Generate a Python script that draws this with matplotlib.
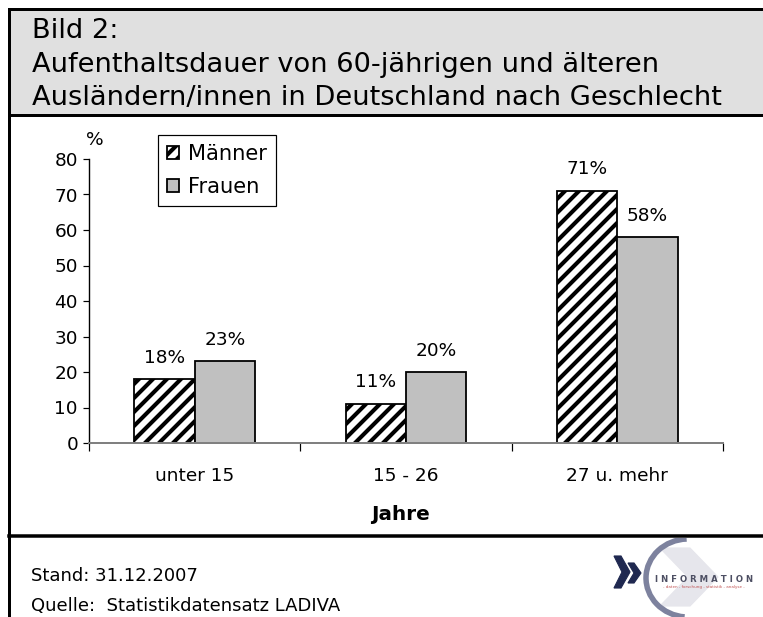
import matplotlib
matplotlib.use("Agg")
import matplotlib.pyplot as plt
from matplotlib.patches import Rectangle, Arc, Polygon
from matplotlib.lines import Line2D
import numpy as np

# Daten
kategorien = ['unter 15', '15 - 26', '27 u. mehr']
maenner = [18, 11, 71]
frauen = [23, 20, 58]
y_ticks = [0, 10, 20, 30, 40, 50, 60, 70, 80]

titel_zeilen = ["Bild 2:",
                "Aufenthaltsdauer von 60-jährigen und älteren",
                "Ausländern/innen in Deutschland nach Geschlecht"]
stand = "Stand: 31.12.2007"
quelle = "Quelle:  Statistikdatensatz LADIVA"

# Figure size in pixels, dpi chosen so the hatch spacing matches
W, H = 763, 617
DPI = 84
plt.rcParams['font.family'] = ['DejaVu Sans']


def fs(px):
    # pixel size -> points
    return px * 72 / DPI


plt.rcParams['hatch.linewidth'] = fs(4.1)


def fx(x):
    return x / W


def fy(y):
    return 1 - y / H


fig = plt.figure(figsize=(W / DPI, H / DPI), dpi=DPI)

# Title box and frame lines
LEFT = 9
fig.patches.append(Rectangle((fx(LEFT), fy(115)), fx(770) - fx(LEFT), fy(9) - fy(115),
                             transform=fig.transFigure, facecolor='#e0e0e0',
                             edgecolor='black', linewidth=fs(3)))
fig.lines.append(Line2D([fx(LEFT), fx(LEFT)], [fy(115), fy(617)], transform=fig.transFigure,
                        color='black', linewidth=fs(3)))
fig.lines.append(Line2D([fx(LEFT), fx(763)], [fy(536), fy(536)], transform=fig.transFigure,
                        color='black', linewidth=fs(3.5)))
for zeile, yb in zip(titel_zeilen, [38.5, 71.8, 105]):
    fig.text(fx(32), fy(yb), zeile, ha='left', va='baseline', fontsize=fs(27.2))

# Chart
ax = fig.add_axes([fx(89), fy(443), fx(723) - fx(89), fy(159) - fy(443)])
x = np.arange(len(kategorien))
bw = 0.285
b1 = ax.bar(x - bw / 2, maenner, bw, color='white', edgecolor='black', hatch='//',
            linewidth=fs(1.8), label='Männer')
b2 = ax.bar(x + bw / 2, frauen, bw, color='#c0c0c0', edgecolor='black',
            linewidth=fs(1.8), label='Frauen')

for bars, vals in [(b1, maenner), (b2, frauen)]:
    for r, v in zip(bars, vals):
        ax.annotate(f"{v}%", (r.get_x() + r.get_width() / 2, v), xytext=(0, fs(12.5)),
                    textcoords='offset points', ha='center', va='bottom', fontsize=fs(18.5))

ax.set_xlim(-0.5, len(kategorien) - 0.5)
ax.set_ylim(0, 80)
ax.set_yticks(y_ticks)
ax.set_xticks(x)
ax.set_xticklabels(kategorien)
ax.set_xticks(np.arange(len(kategorien) + 1) - 0.5, minor=True)
ax.tick_params(axis='x', which='major', length=0, pad=fs(24), labelsize=fs(18.5))
ax.tick_params(axis='x', which='minor', length=fs(8), width=fs(1.2), color='black', direction='out')
ax.tick_params(axis='y', length=fs(6), width=fs(1.2), pad=fs(5), labelsize=fs(18.5), direction='out')
for s in ['top', 'right']:
    ax.spines[s].set_visible(False)
ax.spines['left'].set_linewidth(fs(1.4))
ax.spines['bottom'].set_color('#808080')
ax.spines['bottom'].set_linewidth(fs(2))
ax.set_xlabel('Jahre', fontsize=fs(20), fontweight='bold', va='center')
ax.xaxis.set_label_coords((400 - 89) / (723 - 89), (443 - 514) / (443 - 159))

fig.text(fx(95), fy(140), '%', ha='center', va='center', fontsize=fs(18.5))

leg = fig.legend(handles=[b1, b2], loc='upper left',
                 bbox_to_anchor=(fx(158), fy(135)), fontsize=fs(21),
                 handlelength=0.57, handleheight=0.57, handletextpad=0.45,
                 labelspacing=0.62, borderpad=0.42, borderaxespad=0,
                 fancybox=False, framealpha=1, edgecolor='black')
leg.get_frame().set_linewidth(fs(1.2))

# Footer
fig.text(fx(31), fy(576), stand, ha='left', va='center', fontsize=fs(18))
fig.text(fx(31), fy(606), quelle, ha='left', va='center', fontsize=fs(18))

# Logo (simplified)
lax = fig.add_axes([fx(612), fy(617), fx(763) - fx(612), fy(538) - fy(617)])
lax.set_xlim(612, 763)
lax.set_ylim(617, 538)
lax.axis('off')
lax.add_patch(Polygon([[660, 548], [690, 548], [718, 577], [690, 606], [660, 606], [688, 577]],
                      closed=True, color='#e6e6ec'))
lax.add_patch(Arc((688, 578), 84, 78, theta1=95, theta2=268, color='#7d829e', linewidth=fs(5.5)))
lax.add_patch(Polygon([[614, 556], [621, 556], [630, 572], [621, 588], [614, 588], [622, 572]],
                      closed=True, color='#1f2850'))
lax.add_patch(Polygon([[628, 563], [634, 563], [641, 573], [634, 583], [628, 583], [634, 573]],
                      closed=True, color='#1f2850'))
lax.text(704, 579, 'I N F O R M A T I O N', ha='center', va='center', fontsize=fs(8.5),
         color='#4d4f63', fontweight='bold')
lax.text(704, 587, '- daten - forschung - statistik - analyse -', ha='center', va='center',
         fontsize=fs(4), color='#c05050')

fig.savefig('out.png', dpi=DPI)
